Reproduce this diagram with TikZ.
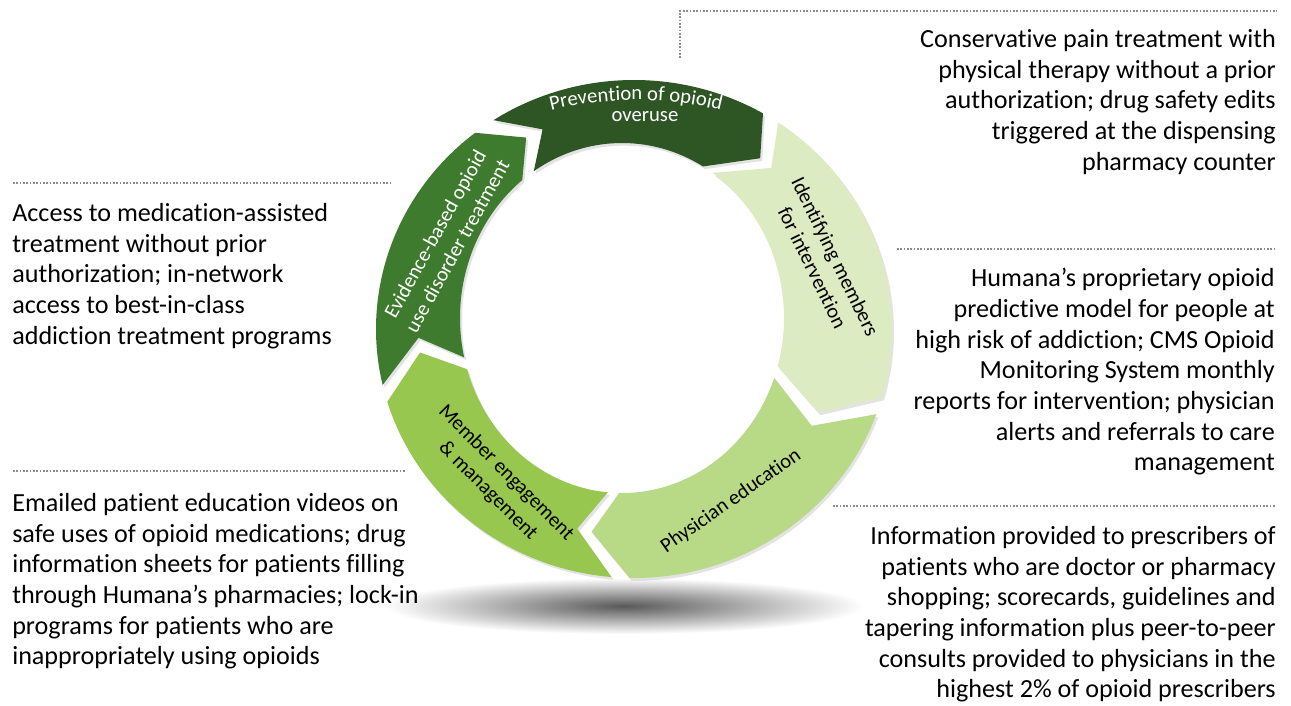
\documentclass[tikz,border=0pt]{standalone}
\usepackage{fontspec}
\setmainfont{Carlito}[Ligatures=NoCommon]
\usetikzlibrary{calc,decorations.text,shadows}
\definecolor{prevC}{HTML}{2E5524}
\definecolor{evidC}{HTML}{3E7B2F}
\definecolor{identC}{HTML}{DCEBC1}
\definecolor{physC}{HTML}{B8D985}
\definecolor{membC}{HTML}{97C74F}
\definecolor{dotC}{HTML}{8C8C8C}
\newcommand\ringseg[3]{%
  \fill[#3, drop shadow={opacity=0.22, shadow xshift=1.5pt, shadow yshift=-2pt}]
    ($(co)+(#1:258 and 249)$) arc[start angle=#1, end angle=#2, x radius=258, y radius=249]
    -- ($(cm)+({#2-9}:210 and 212)$)
    -- ($(ci)+(#2:162 and 175)$) arc[start angle=#2, end angle=#1, x radius=162, y radius=175]
    -- ($(cm)+({#1-9}:210 and 212)$) -- cycle;}
\begin{document}
\begin{tikzpicture}[x=0.75pt,y=0.75pt,
  desc/.style={font=\fontsize{19.6}{23}\selectfont, inner sep=0pt, text=black},
  seplink/.style={draw=dotC, line width=1.2pt, dash pattern=on 1.2pt off 1.3pt},
  ringlbl/.style={font=\fontsize{15.5}{19}\selectfont, inner sep=0pt, align=center},
]
\useasboundingbox (0,0) rectangle (1291,-706);
\fill[white] (0,0) rectangle (1291,-706);

\coordinate (co) at (634,-329);
\coordinate (ci) at (622,-318);
\coordinate (cm) at (628,-323);
\coordinate (ca) at (636,-451);

% ground shadow
\shade[inner color=black!65, outer color=white] (624,-606) ellipse[x radius=240, y radius=28];

% ring segments (clockwise)
\ringseg{123}{60}{prevC}
\ringseg{56}{-16}{identC}
\ringseg{-20}{-91}{physC}
\ringseg{-95}{-163}{membC}
\ringseg{193}{128}{evidC}

% ring labels
\path[decorate, decoration={text along path, text align=center,
   text={|\fontsize{15.5}{19}\selectfont\color{white}|Prevention of opioid}}]
   ($(ca)+(110:351)$) arc[start angle=110, end angle=70, radius=351];
\node[ringlbl, text=white, anchor=base] (prev) at (645,-122) {overuse};
\node[ringlbl, text=white, rotate=61] (evid) at (446,-240) {Evidence-based opioid\\use disorder treatment};
\node[ringlbl, text=black, rotate=-64] (ident) at (824,-262) {Identifying members\\for intervention};
\node[ringlbl, text=black, rotate=35] (phys) at (731,-501) {Physician education};
\node[ringlbl, text=black, rotate=-45] (memb) at (497,-482) {Member engagement\\\& management};

% dotted separators
\coordinate (t1) at (680,-58);
\coordinate (t2) at (680,-11);
\coordinate (t3) at (1277,-11);
\draw[seplink] (t1) -- (t2) -- (t3);
\coordinate (r1) at (897,-249);
\coordinate (r2) at (1275,-249);
\draw[seplink] (r1) -- (r2);
\coordinate (b1) at (833,-506);
\coordinate (b2) at (1275,-506);
\draw[seplink] (b1) -- (b2);
\coordinate (l1) at (13,-183);
\coordinate (l2) at (392,-183);
\draw[seplink] (l1) -- (l2);
\coordinate (m1) at (13,-471);
\coordinate (m2) at (405,-471);
\draw[seplink] (m1) -- (m2);

% description texts
\node[desc, anchor=north east, align=right] (tr) at (1276,-29) {Conservative pain treatment with\\physical therapy without a prior\\authorization; drug safety edits\\triggered at the dispensing\\pharmacy counter};
\node[desc, anchor=north east, align=right] (rm) at (1275,-268) {Humana’s proprietary opioid\\predictive model for people at\\high risk of addiction; CMS Opioid\\Monitoring System monthly\\reports for intervention; physician\\alerts and referrals to care\\management};
\node[desc, anchor=north east, align=right] (rb) at (1276,-526) {Information provided to prescribers of\\patients who are doctor or pharmacy\\shopping; scorecards, guidelines and\\tapering information plus peer-to-peer\\consults provided to physicians in the\\highest 2\% of opioid prescribers};
\node[desc, anchor=north west, align=left] (lu) at (12,-203) {Access to medication-assisted\\treatment without prior\\authorization; in-network\\access to best-in-class\\addiction treatment programs};
\node[desc, anchor=north west, align=left] (ll) at (12,-493) {Emailed patient education videos on\\safe uses of opioid medications; drug\\information sheets for patients filling\\through Humana’s pharmacies; lock-in\\programs for patients who are\\inappropriately using opioids};
\end{tikzpicture}
\end{document}
